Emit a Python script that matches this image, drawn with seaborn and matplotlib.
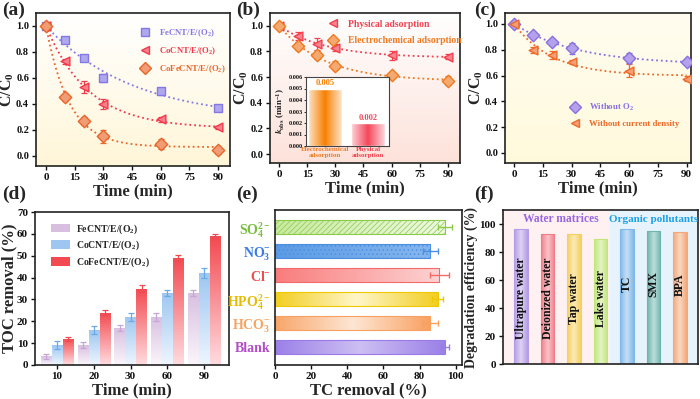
import numpy as np
import pandas as pd
import matplotlib
matplotlib.use('Agg')
import matplotlib.pyplot as plt
import seaborn as sns
from matplotlib.colors import LinearSegmentedColormap, to_rgb
from matplotlib.lines import Line2D
from matplotlib.patches import Patch

# ---- data ----
t = [0, 10, 20, 30, 60, 90]

# (a)
a_fe = [1.0, 0.89, 0.755, 0.60, 0.495, 0.367]
a_fe_err = [0.02, 0.015, 0.02, 0.03, 0.025, 0.015]
a_co = [1.0, 0.726, 0.53, 0.40, 0.28, 0.217]
a_co_err = [0.02, 0.02, 0.045, 0.04, 0.02, 0.015]
a_cofe = [1.0, 0.45, 0.27, 0.15, 0.09, 0.04]
a_cofe_err = [0.02, 0.025, 0.03, 0.05, 0.04, 0.03]

# (b)
b_phys = [1.0, 0.92, 0.86, 0.83, 0.77, 0.76]
b_phys_err = [0.02, 0.03, 0.045, 0.025, 0.035, 0.02]
b_elec = [1.0, 0.84, 0.77, 0.69, 0.62, 0.57]
b_elec_err = [0.02, 0.03, 0.03, 0.035, 0.02, 0.035]
k_names = ['Electrochemical\nadsorption', 'Physical\nadsorption']
k_obs = [0.005, 0.002]

# (c)
c_o2 = [1.0, 0.917, 0.858, 0.81, 0.736, 0.705]
c_o2_err = [0.02, 0.02, 0.02, 0.045, 0.035, 0.015]
c_cur = [1.0, 0.80, 0.757, 0.708, 0.638, 0.576]
c_cur_err = [0.02, 0.025, 0.03, 0.015, 0.05, 0.02]

# (d)
d_time = ['10', '20', '30', '60', '90']
d_fe = [4, 9, 17, 22, 33]
d_fe_err = [1.2, 1.3, 1.5, 2.0, 1.5]
d_co = [9, 16, 22, 33, 42]
d_co_err = [1.8, 2.0, 1.8, 1.5, 2.3]
d_cofe = [12, 24, 35, 49, 59]
d_cofe_err = [1.0, 1.3, 1.5, 1.3, 1.0]

# (e)
e_ions = ['SO$_4^{2-}$', 'NO$_3^{-}$', 'Cl$^{-}$', 'HPO$_4^{2-}$', 'HCO$_3^{-}$', 'Blank']
e_val = [94, 86, 91, 90, 86, 94]
e_err = [4, 4, 5.3, 3, 4, 2.3]

# (f)
f_names = ['Ultrapure water', 'Deionized water', 'Tap water', 'Lake water', 'TC', 'SMX', 'BPA']
f_val = [96.7, 93.1, 92.6, 89.0, 96.7, 95.2, 94.3]

# ---- style ----
sns.set_theme(style='ticks')
plt.rcParams.update({
    'font.family': ['Liberation Serif', 'DejaVu Serif'],
    'font.weight': 'bold',
    'axes.labelweight': 'bold',
    'mathtext.fontset': 'custom',
    'mathtext.rm': 'Liberation Serif:bold',
    'mathtext.it': 'Liberation Serif:bold:italic',
    'mathtext.bf': 'Liberation Serif:bold',
    'axes.linewidth': 1.2,
    'axes.edgecolor': '#222222',
    'xtick.major.width': 1.0,
    'ytick.major.width': 1.0,
    'xtick.major.size': 3,
    'ytick.major.size': 3,
    'xtick.major.pad': 2,
    'ytick.major.pad': 2,
    'xtick.labelsize': 8,
    'ytick.labelsize': 8,
    'xtick.color': '#111111',
    'ytick.color': '#111111',
    'hatch.linewidth': 0.5,
})


def lighten(c, f):
    r = np.array(to_rgb(c))
    return tuple(float(v) for v in r + (1 - r) * f)


def grad_patch(ax, patch, colors, horizontal=True, hatch=None, edge=None):
    cmap = LinearSegmentedColormap.from_list('g', colors)
    x0, y0 = patch.get_xy()
    w, h = patch.get_width(), patch.get_height()
    arr = np.linspace(0, 1, 256).reshape(1, -1) if horizontal else np.linspace(0, 1, 256).reshape(-1, 1)
    im = ax.imshow(arr, cmap=cmap, extent=[x0, x0 + w, min(y0, y0 + h), max(y0, y0 + h)],
                   aspect='auto', origin='lower', zorder=1.5, interpolation='bilinear')
    im.set_clip_path(patch)
    patch.set_facecolor('none')
    patch.set_zorder(2)
    if edge is not None:
        patch.set_edgecolor(edge)
        patch.set_linewidth(0.8)
    if hatch:
        patch.set_hatch(hatch)


def bg_gradient(ax, top, bottom, xl, yl):
    cmap = LinearSegmentedColormap.from_list('bg', [bottom, top])
    ax.imshow(np.linspace(0, 1, 256).reshape(-1, 1), cmap=cmap, aspect='auto', origin='lower',
              extent=[xl[0], xl[1], yl[0], yl[1]], zorder=0)


def fit_curve(tt, y):
    tt = np.asarray(tt, float)
    y = np.asarray(y, float)
    best = None
    for k in np.linspace(0.002, 0.3, 1500):
        e = np.exp(-k * tt)
        c = np.sum((y - e) * (1 - e)) / np.sum((1 - e) ** 2)
        r = np.sum((c + (1 - c) * e - y) ** 2)
        if best is None or r < best[0]:
            best = (r, k, c)
    xs = np.linspace(0, 90, 200)
    return xs, best[2] + (1 - best[2]) * np.exp(-best[1] * xs)


def kinetic(ax, series, xl, yl, top, bottom):
    bg_gradient(ax, top, bottom, xl, yl)
    for name, y, err, color, marker in series:
        xs, ys = fit_curve(t, y)
        sns.lineplot(x=xs, y=ys, ax=ax, color=color, linewidth=1.3, linestyle=':', zorder=2)
        ax.errorbar(t, y, yerr=err, fmt='none', ecolor=color, elinewidth=0.9, capsize=2, capthick=0.9, zorder=3)
        sns.scatterplot(x=t, y=y, ax=ax, marker=marker, s=40, color=lighten(color, 0.35),
                        edgecolor=color, linewidth=1.0, zorder=4)
    ax.set_xlim(*xl)
    ax.set_ylim(*yl)
    ax.set_xticks([0, 15, 30, 45, 60, 75, 90])
    ax.set_yticks(np.arange(0, 1.01, 0.2))
    ax.yaxis.set_major_formatter(matplotlib.ticker.FormatStrFormatter('%.1f'))
    ax.tick_params(axis='y', labelsize=7.5)
    ax.set_xlabel('Time (min)', fontsize=12, labelpad=1)
    ax.set_ylabel('C/C$_0$', fontsize=11.5, labelpad=0)


def legend_markers(ax, series, loc, anchor, fs=6.3):
    hs = [Line2D([], [], marker=m, ls='none', markersize=6, markerfacecolor=lighten(c, 0.35),
                 markeredgecolor=c, markeredgewidth=1.0) for _, _, _, c, m in series]
    leg = ax.legend(hs, [s[0] for s in series], loc=loc, bbox_to_anchor=anchor, frameon=False,
                    fontsize=fs, handletextpad=0.6, labelspacing=0.75, borderaxespad=0)
    for txt, s in zip(leg.get_texts(), series):
        txt.set_color(s[3])


fig = plt.figure(figsize=(7, 3.99), dpi=100)
H = 399.0


def box(l, r, top, bot):
    return [l / 700, 1 - bot / H, (r - l) / 700, (bot - top) / H]


# (a)
ax = fig.add_axes(box(36, 230, 13, 166))
sa = [('FeCNT/E/(O$_2$)', a_fe, a_fe_err, '#8479E4', 's'),
      ('CoCNT/E/(O$_2$)', a_co, a_co_err, '#F03A4C', '<'),
      ('CoFeCNT/E/(O$_2$)', a_cofe, a_cofe_err, '#E8662A', 'D')]
kinetic(ax, sa, (-5.2, 96.2), (-0.08, 1.1), '#FFFFFF', '#FFF6D8')
legend_markers(ax, sa, 'upper left', (0.5, 0.93))

# (b)
ax = fig.add_axes(box(270, 460, 13, 163))
sb = [('Physical adsorption', b_phys, b_phys_err, '#F2404F', '<'),
      ('Electrochemical adsorption', b_elec, b_elec_err, '#EE7A22', 'D')]
kinetic(ax, sb, (-4.8, 96.4), (-0.07, 1.1), '#FFFFFF', '#FDE2DA')
legend_markers(ax, sb, 'upper left', (0.26, 0.98), fs=6.9)

ins = fig.add_axes(box(306, 389, 77, 146))
ins.set_facecolor('white')
sns.barplot(x=k_names, y=k_obs, hue=k_names, palette=['#F77F00', '#F4485A'], width=0.78,
            legend=False, ax=ins)
inset_cols = [['#FDE6CC', '#F77F00', '#FDE6CC'], ['#FDD6DB', '#F4485A', '#FDD6DB']]
for cont, cols in zip(ins.containers, inset_cols):
    bar = cont[0]
    grad_patch(ins, bar, cols)
    ins.text(bar.get_x() + bar.get_width() / 2, bar.get_height() + 0.0001, f'{bar.get_height():.3f}',
             ha='center', va='bottom', fontsize=6, color=cols[1])
ins.set_xlim(-0.44, 1.48)
ins.set_ylim(0, 0.006)
ins.set_yticks(np.arange(0, 0.0061, 0.001))
ins.yaxis.set_major_formatter(matplotlib.ticker.FormatStrFormatter('%.3f'))
ins.tick_params(axis='y', labelsize=4.5, length=1.5, width=0.6, pad=1)
ins.tick_params(axis='x', labelsize=5, length=0, pad=1)
for lab, c in zip(ins.get_xticklabels(), ['#EE7A22', '#F2404F']):
    lab.set_color(c)
ins.set_ylabel('$\\mathit{k}_{\\rm obs}$ (min$^{-1}$)', fontsize=6.5, labelpad=1)
for sp in ins.spines.values():
    sp.set_linewidth(0.8)
    sp.set_color('#444444')

# (c)
ax = fig.add_axes(box(505, 691, 13, 163))
sc = [('Without O$_2$', c_o2, c_o2_err, '#8A6FE0', 'D'),
      ('Without current density', c_cur, c_cur_err, '#EE6A2A', '<')]
kinetic(ax, sc, (-4.7, 92.3), (-0.078, 1.085), '#FFFDF0', '#FFF9DC')
legend_markers(ax, sc, 'upper left', (0.31, 0.43))

# (d)
ax = fig.add_axes(box(35, 229, 212, 365))
d_names = ['FeCNT/E/(O$_2$)', 'CoCNT/E/(O$_2$)', 'CoFeCNT/E/(O$_2$)']
df_d = pd.DataFrame({'time': d_time * 3, 'val': d_fe + d_co + d_cofe,
                     'cat': [n for n in d_names for _ in d_time]})
d_cols = ['#D8BFE0', '#9EC6F0', '#F24A50']
d_pale = ['#FBF6FB', '#EEF6FF', '#FFDCE0']
d_ecol = ['#C7A5D8', '#6AAAE6', '#EE4A52']
sns.barplot(data=df_d, x='time', y='val', hue='cat', palette=d_cols, width=0.9, gap=0.08,
            legend=False, ax=ax)
for cont, cp, cc, ec, errs in zip(ax.containers, d_pale, d_cols, d_ecol, [d_fe_err, d_co_err, d_cofe_err]):
    xs, ys = [], []
    for bar in cont:
        grad_patch(ax, bar, [cp, cc], horizontal=False)
        bar.set_edgecolor('none')
        xs.append(bar.get_x() + bar.get_width() / 2)
        ys.append(bar.get_height())
    ax.errorbar(xs, ys, yerr=errs, fmt='none', ecolor=ec, elinewidth=0.9, capsize=2, capthick=0.9, zorder=3)
ax.set_xlim(-0.6, 4.68)
ax.set_ylim(0, 70)
ax.set_yticks(range(0, 71, 10))
ax.set_xlabel('Time (min)', fontsize=12, labelpad=1)
ax.set_ylabel('TOC removal (%)', fontsize=12, labelpad=0)
hs = [Patch(facecolor=c, edgecolor='none') for c in d_cols]
ax.legend(hs, d_names, loc='upper left', bbox_to_anchor=(0.06, 0.96), frameon=False, fontsize=7,
          handlelength=2.0, handleheight=1.0, handletextpad=0.6, labelspacing=0.35, borderaxespad=0)

# (e)
ax = fig.add_axes(box(275, 462, 210, 365))
e_edge = ['#8CCB4A', '#4A8FE0', '#F26A6A', '#F0C800', '#F7A060', '#9A7AE6']
e_fill = [['#C8EAA0', '#EEF9E2'], ['#5B9BE5', '#86B6EE'], ['#F97C7C', '#FDD3D3'],
          ['#F2CE20', '#FFF6C8', '#F2CE20'], ['#F9A66A', '#FDE6D4', '#F9A060'],
          ['#9B80E8', '#CDBFF3', '#9B80E8']]
e_hatch = ['//////', '....', None, None, None, None]
e_lab = ['#78BE3C', '#3C7CE0', '#F04C4C', '#E6BC00', '#F6A462', '#B24CC8']
sns.barplot(x=e_val, y=e_ions, hue=e_ions, palette=e_edge, orient='h', width=0.62, legend=False, ax=ax)
for cont, cols, ed, ht in zip(ax.containers, e_fill, e_edge, e_hatch):
    grad_patch(ax, cont[0], cols, horizontal=True, hatch=ht, edge=ed)
for i, (v, er, ed) in enumerate(zip(e_val, e_err, e_edge)):
    ax.errorbar([v], [i], xerr=[er], fmt='none', ecolor=ed, elinewidth=1.0,
                capsize=2, capthick=1.0, zorder=3)
ax.set_xlim(0, 103.5)
ax.set_ylim(5.75, -0.71)
ax.set_xticks(range(0, 101, 20))
ax.tick_params(axis='y', length=0, labelsize=10, pad=3)
for lab, c in zip(ax.get_yticklabels(), e_lab):
    lab.set_color(c)
ax.set_xlabel('TC removal (%)', fontsize=12, labelpad=1)
ax.set_ylabel('')

# (f)
ax = fig.add_axes(box(503, 698, 210, 364))
f_cols = ['#B49CE6', '#F27C88', '#F5D060', '#C2E67A', '#7FB8EA', '#6DB5AE', '#F2A878']
ax.axvspan(-0.68, 3.35, color='#FFF1F1', zorder=0, lw=0)
ax.axvspan(3.35, 6.68, color='#E7F3FC', zorder=0, lw=0)
sns.barplot(x=f_names, y=f_val, hue=f_names, palette=f_cols, width=0.5, legend=False, ax=ax)
for i, (cont, c) in enumerate(zip(ax.containers, f_cols)):
    bar = cont[0]
    grad_patch(ax, bar, [c, lighten(c, 0.55), c], horizontal=True, edge=c)
    ax.text(bar.get_x() + bar.get_width() / 2, 47 if i < 4 else 57, f_names[i], rotation=90,
            ha='center', va='center', fontsize=8.5, color='#111111', zorder=5)
ax.text(1.5, 103.5, 'Water matrices', ha='center', va='center', fontsize=8.3, color='#9A66E0')
ax.text(5.02, 103.5, 'Organic pollutants', ha='center', va='center', fontsize=8.0, color='#1EA0E6')
ax.set_xlim(-0.68, 6.68)
ax.set_ylim(0, 110)
ax.set_xticks([])
ax.set_yticks(range(0, 101, 20))
ax.set_ylabel('Degradation efficiency (%)', fontsize=10, labelpad=1)
ax.set_xlabel('')

# panel letters
for lab, x, y in [('(a)', 2, 2), ('(b)', 236, 2), ('(c)', 474, 2),
                  ('(d)', 2, 186), ('(e)', 236, 186), ('(f)', 474, 186)]:
    fig.text(x / 700, 1 - y / H, lab, fontsize=14, fontweight='bold', ha='left', va='top')

fig.savefig('out.png', dpi=100)
